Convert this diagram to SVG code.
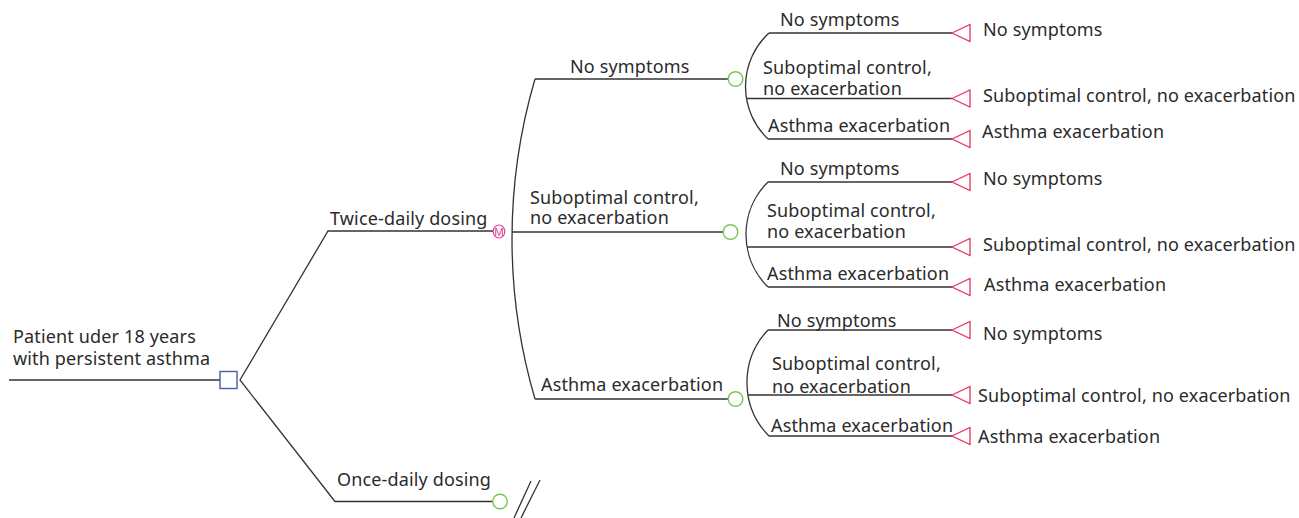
<svg xmlns="http://www.w3.org/2000/svg" xmlns:xlink="http://www.w3.org/1999/xlink" width="1299" height="518" viewBox="0 0 1299 518">
<defs>
<style>
.ln{fill:none;stroke:#333;stroke-width:1.3}
.t{font-family:"Noto Sans","Liberation Sans",sans-serif;font-size:18px;letter-spacing:0.15px;fill:#2b2b2b}
.ch{fill:#fff;stroke:#7cc555;stroke-width:1.4}
.term{fill:#fff;stroke:#e8335f;stroke-width:1.3}
.dec{fill:#fff;stroke:#4a5aaa;stroke-width:1.4}
.mk{fill:#fff;stroke:#e0459a;stroke-width:1.2}
.mt{font-family:"Liberation Sans",sans-serif;font-size:11.5px;fill:#e0459a}
</style>
<path id="tri" d="M0,0 L18,-8.5 L18,8.5 Z"/>
</defs>
<rect width="1299" height="518" fill="#fff"/>

<g id="connectors">
<line class="ln" x1="9" y1="380" x2="220" y2="380"/>
<polyline class="ln" points="493,231 328,231 240,380 335,501.5 493,501.5"/>
<path class="ln" d="M535,79 A568,568 0 0 0 535,399"/>
<line class="ln" x1="535" y1="79" x2="728" y2="79"/>
<line class="ln" x1="512" y1="232" x2="723" y2="232"/>
<line class="ln" x1="535" y1="399" x2="728" y2="399"/>
<path class="ln" d="M769,33 A72.6,72.6 0 0 0 768,139"/>
<line class="ln" x1="769" y1="33" x2="952" y2="33"/>
<line class="ln" x1="747" y1="98.5" x2="952" y2="98.5"/>
<line class="ln" x1="768" y1="139" x2="952" y2="139"/>
<path class="ln" d="M768,182 A73.6,73.6 0 0 0 768,287"/>
<line class="ln" x1="768" y1="182" x2="952" y2="182"/>
<line class="ln" x1="747" y1="247" x2="952" y2="247"/>
<line class="ln" x1="768" y1="287" x2="952" y2="287"/>
<path class="ln" d="M768,330 A76,76 0 0 0 769,436"/>
<line class="ln" x1="768" y1="330" x2="952" y2="330"/>
<line class="ln" x1="748" y1="395" x2="952" y2="395"/>
<line class="ln" x1="769" y1="436" x2="952" y2="436"/>
<line class="ln" x1="514" y1="518" x2="531" y2="481"/>
<line class="ln" x1="521" y1="518" x2="540" y2="480"/>
</g>

<g id="root">
<text class="t" x="13" y="343">Patient uder 18 years</text>
<text class="t" x="13" y="365">with persistent asthma</text>
<rect class="dec" x="220" y="371.5" width="17" height="17"/>
</g>

<g id="twice">
<text class="t" x="330" y="225">Twice-daily dosing</text>
<ellipse class="mk" cx="499" cy="231.5" rx="5.8" ry="6.5"/>
<text class="mt" x="499" y="235.7" text-anchor="middle">M</text>
</g>

<g id="once">
<text class="t" x="337" y="486">Once-daily dosing</text>
<circle class="ch" cx="500" cy="501.5" r="7.3"/>
</g>

<g id="c1">
<text class="t" x="570" y="73">No symptoms</text>
<circle class="ch" cx="735.5" cy="79" r="7.3"/>
</g>
<g id="c2">
<text class="t" x="530" y="204">Suboptimal control,</text>
<text class="t" x="530" y="224">no exacerbation</text>
<circle class="ch" cx="730.5" cy="232" r="7.3"/>
</g>
<g id="c3">
<text class="t" x="541" y="391">Asthma exacerbation</text>
<circle class="ch" cx="735.5" cy="399" r="7.3"/>
</g>

<g id="b1">
<text class="t" x="780" y="26">No symptoms</text>
<text class="t" x="763" y="74">Suboptimal control,</text>
<text class="t" x="763" y="95">no exacerbation</text>
<text class="t" x="768" y="132">Asthma exacerbation</text>
</g>
<g id="b2">
<text class="t" x="780" y="175">No symptoms</text>
<text class="t" x="767" y="217">Suboptimal control,</text>
<text class="t" x="767" y="238">no exacerbation</text>
<text class="t" x="767" y="280">Asthma exacerbation</text>
</g>
<g id="b3">
<text class="t" x="777" y="327">No symptoms</text>
<text class="t" x="772" y="370">Suboptimal control,</text>
<text class="t" x="772" y="393">no exacerbation</text>
<text class="t" x="771" y="432">Asthma exacerbation</text>
</g>

<g id="t11"><use xlink:href="#tri" class="term" x="952" y="33"/><text class="t" x="983" y="36">No symptoms</text></g>
<g id="t12"><use xlink:href="#tri" class="term" x="952" y="98.5"/><text class="t" x="983" y="102">Suboptimal control, no exacerbation</text></g>
<g id="t13"><use xlink:href="#tri" class="term" x="952" y="139"/><text class="t" x="982" y="138">Asthma exacerbation</text></g>
<g id="t21"><use xlink:href="#tri" class="term" x="952" y="182"/><text class="t" x="983" y="185">No symptoms</text></g>
<g id="t22"><use xlink:href="#tri" class="term" x="952" y="247"/><text class="t" x="983" y="251">Suboptimal control, no exacerbation</text></g>
<g id="t23"><use xlink:href="#tri" class="term" x="952" y="287"/><text class="t" x="984" y="291">Asthma exacerbation</text></g>
<g id="t31"><use xlink:href="#tri" class="term" x="952" y="330"/><text class="t" x="983" y="340">No symptoms</text></g>
<g id="t32"><use xlink:href="#tri" class="term" x="952" y="395"/><text class="t" x="978" y="402">Suboptimal control, no exacerbation</text></g>
<g id="t33"><use xlink:href="#tri" class="term" x="952" y="436"/><text class="t" x="978" y="443">Asthma exacerbation</text></g>
</svg>
